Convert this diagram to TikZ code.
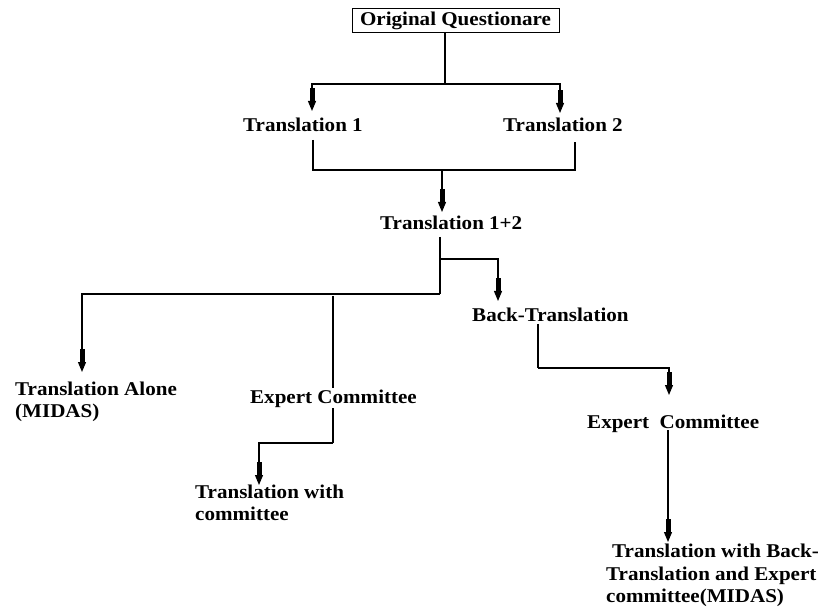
\documentclass[tikz,border=0pt]{standalone}
\usepackage{fontspec}
\setmainfont[FakeStretch=1.08]{Liberation Serif}
\usetikzlibrary{arrows.meta,calc}
\tikzset{
  ln/.style={line width=1.2pt,black},
  arr/.style={ln,-{Rectangle[length=13pt,width=5pt,sep=0pt]Triangle[length=10pt,width=8pt]}},
  lbl/.style={font=\fontsize{19.5}{22.5}\selectfont\bfseries,inner sep=0pt,anchor=base west},
  mlbl/.style={font=\fontsize{19.5}{22.5}\selectfont\bfseries,inner sep=0pt,anchor=north west,align=left},
}
\begin{document}
\begin{tikzpicture}[x=1pt,y=-1pt]
\useasboundingbox (0,0) rectangle (822,612);
% nodes
\node[draw,line width=1pt,font=\fontsize{19.5}{22.5}\selectfont\bfseries,minimum width=207pt,minimum height=24pt,inner sep=0pt] (q) at (455.5,21) {Original Questionare};
\node[lbl] (t1) at (243,132) {Translation 1};
\node[lbl] (t2) at (503,132) {Translation 2};
\node[lbl] (t12) at (380,230) {Translation 1+2};
\node[lbl] (bt) at (472,322) {Back-Translation};
\node[mlbl] (ta) at (15,379.2) {\strut Translation Alone\\(MIDAS)};
\node[mlbl] (twc) at (195,482.2) {\strut Translation with\\committee};
\node[lbl] (ec2) at (587,428) {Expert\ \ Committee};
\node[mlbl] (tbe) at (606,541.9) {\strut\hspace*{6pt}Translation with Back-\\Translation and Expert\\committee(MIDAS)};
% coordinates
\coordinate (qd) at (445,84);
\coordinate (a1) at (312,111);
\coordinate (a2) at (560,113);
\coordinate (b1) at (313,170);
\coordinate (b2) at (575,170);
\coordinate (m12) at (442,170);
\coordinate (a12) at (442,212);
\coordinate (c1) at (440,259);
\coordinate (c2) at (440,294);
\coordinate (abt) at (498,301);
\coordinate (ata) at (82,372);
\coordinate (m2) at (333,296);
\coordinate (m3) at (333,443);
\coordinate (atw) at (259,485);
\coordinate (d1) at (538,368);
\coordinate (aec) at (669,395);
\coordinate (atbe) at (668,542);
% connectors
\draw[ln] (q.south -| qd) -- (qd);
\draw[arr] (qd) -| (a1);
\draw[arr] (qd) -| (a2);
\draw[ln] ($(t1.base -| b1)+(0,8)$) -- (b1) -- (b2) -- ($(t2.base -| b2)+(0,10)$);
\draw[arr] (m12) -- (a12);
\draw[ln] ($(t12.base -| c1)+(0,7)$) -- (c2);
\draw[arr] (c1) -| (abt);
\draw[arr] (c2) -| (ata);
\draw[ln] (m2) -- (m3);
\draw[arr] (m3) -| (atw);
\draw[ln] ($(bt.base -| d1)+(0,2)$) -- (d1);
\draw[arr] (d1) -| (aec);
\draw[arr] ($(ec2.base -| atbe)+(0,2)$) -- (atbe);
% label over the vertical line
\node[lbl,fill=white,inner sep=1pt] (ec1) at (249,403) {Expert Committee};
\end{tikzpicture}
\end{document}
